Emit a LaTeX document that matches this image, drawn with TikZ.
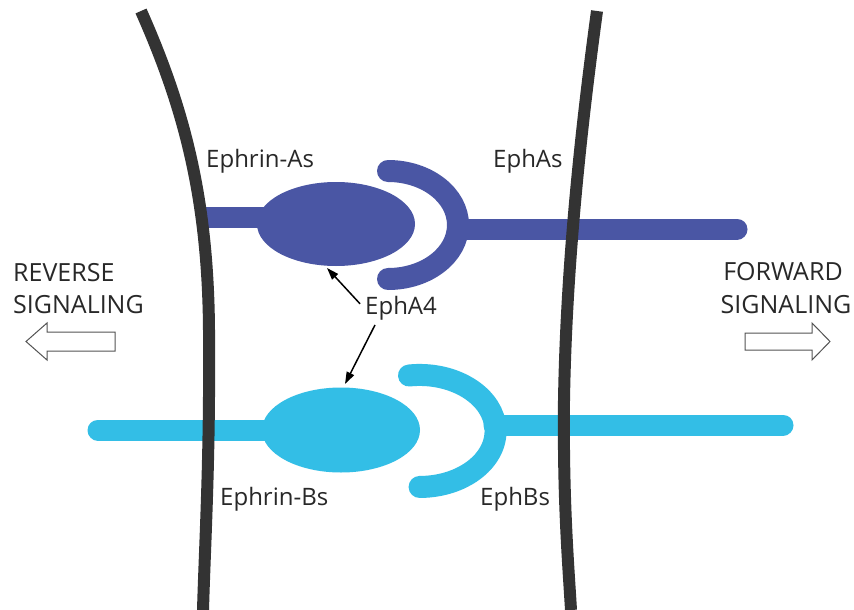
\documentclass[tikz,border=0pt]{standalone}
\usepackage{fontspec}
\setmainfont{Open Sans}
\usetikzlibrary{shapes.geometric,arrows.meta}
\definecolor{membrane}{RGB}{51,51,51}
\definecolor{ephA}{RGB}{74,86,164}
\definecolor{ephB}{RGB}{51,190,230}
\definecolor{inkgray}{RGB}{40,40,40}
\tikzset{
  membraneline/.style={draw=membrane,line width=12pt,line cap=butt},
  stalk/.style={line width=21pt},
  receptor/.style={line width=22pt,line cap=round},
  ligand/.style={ellipse,inner sep=0pt,minimum width=158pt,minimum height=84pt},
  lbl/.style={inner sep=0pt,anchor=base west,text=inkgray,font=\fontsize{24}{28}\selectfont},
  siglbl/.style={inner sep=0pt,text=inkgray,font=\fontsize{25}{29}\selectfont},
  ptr/.style={draw=black,line width=1.5pt,-{Triangle[length=12pt,width=8pt]}},
  blockarrow/.style={draw=inkgray!80,line width=1pt,fill=white,line join=miter}
}
\begin{document}
\begin{tikzpicture}[x=1pt,y=-1pt]
\useasboundingbox (0,0) rectangle (854,610);
\fill[white] (0,0) rectangle (854,610);

% EphA / ephrin-A pair
\draw[ephA,stalk,line cap=butt] (205,217) -- (300,217);
\node[ligand,fill=ephA] (ea) at (336,224) {};
\draw[ephA,stalk,line cap=round] (458,229) -- (737,229);
\draw[ephA,receptor] (388,171) arc[start angle=270,end angle=450,x radius=70,y radius=54];

% EphB / ephrin-B pair
\draw[ephB,stalk,line cap=round] (98,430) -- (300,430);
\node[ligand,fill=ephB,minimum height=85pt] (eb) at (341,430) {};
\draw[ephB,stalk,line cap=round] (494,425) -- (783,425);
\draw[ephB,receptor] (409,375.5) arc[start angle=262,end angle=450,x radius=76,y radius=56];

% cell membranes
\draw[membraneline] (141,11) .. controls (185,110) and (208,200) .. (209,330)
  .. controls (210,460) and (205,540) .. (203,610);
\draw[membraneline] (597,11) .. controls (578,150) and (566,280) .. (564,400)
  .. controls (563,500) and (568,560) .. (571,610);

% labels
\node[lbl] (ephrinA) at (206,167) {Ephrin-As};
\node[lbl] (ephA) at (493,167) {EphAs};
\node[lbl] (epha4) at (365,314) {EphA4};
\node[lbl] (ephrinB) at (220,505) {Ephrin-Bs};
\node[lbl] (ephB) at (480,505) {EphBs};

\node[siglbl,anchor=base west] (rev1) at (13,281) {REVERSE};
\node[siglbl,anchor=base west] (rev2) at (13,313) {SIGNALING};
\node[siglbl,anchor=base] (fwd1) at (783,280) {FORWARD};
\node[siglbl,anchor=base] (fwd2) at (786,313) {SIGNALING};

% EphA4 binds both ligand classes
\coordinate (tipA) at (327,268);
\coordinate (tipB) at (345,384);
\draw[ptr] ([xshift=-5pt,yshift=4pt]epha4.west) -- (tipA);
\draw[ptr] ([xshift=10pt,yshift=-5pt]epha4.south west) -- (tipB);

% signalling directions
\draw[blockarrow] (115,332) -- (47,332) -- (47,323) -- (26,341.5) -- (47,360)
  -- (47,351) -- (115,351) -- cycle;
\draw[blockarrow] (745,333) -- (812,333) -- (812,323) -- (830,341.5) -- (812,360)
  -- (812,350) -- (745,350) -- cycle;
\end{tikzpicture}
\end{document}
